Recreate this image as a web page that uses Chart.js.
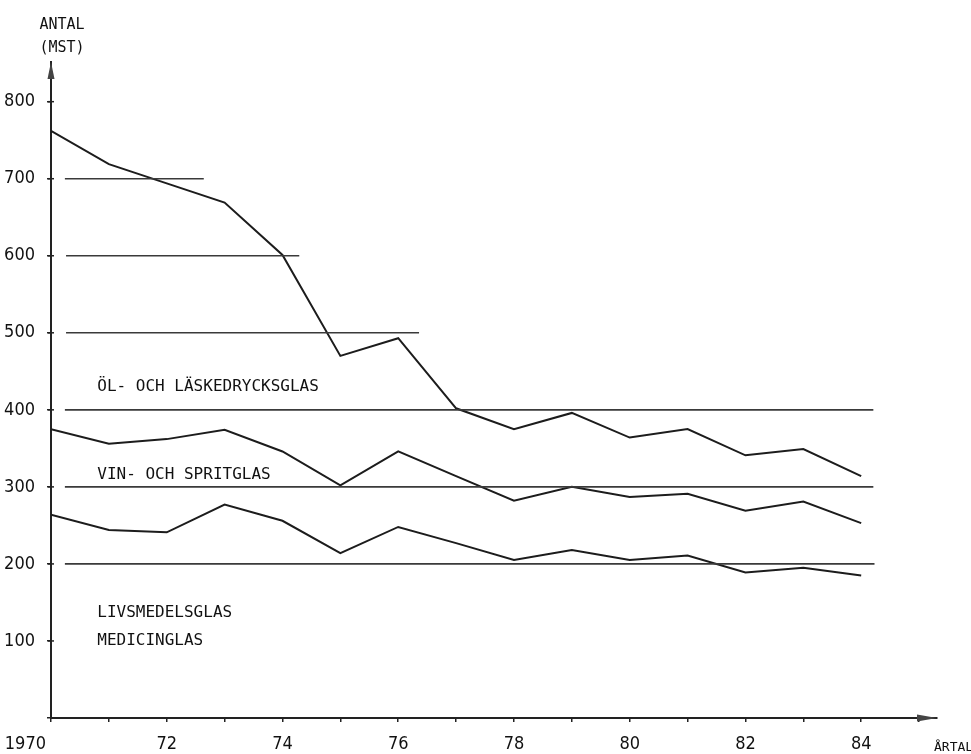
<!DOCTYPE html>
<html>
<head>
<meta charset="utf-8">
<script src="https://cdn.jsdelivr.net/npm/chart.js@4.4.1/dist/chart.umd.min.js"></script>
<style>
  body { margin: 0; background: #fff; }
  #wrap { width: 971px; height: 754px; }
</style>
</head>
<body>
<div id="wrap"><canvas id="chart1" width="971" height="754"></canvas></div>
<script>
// data (antal, miljoner st)
const years = [1970, 1971, 1972, 1973, 1974, 1975, 1976, 1977, 1978, 1979, 1980, 1981, 1982, 1983, 1984];
const olOchLask = [762, 719, 694, 669, 601, 470, 493, 402, 375, 396, 364, 375, 341, 349, 314];
const vinOchSprit = [375, 356, 362, 374, 346, 302, 346, 314, 282, 300, 287, 291, 269, 281, 253];
const livsmedel = [264, 244, 241, 277, 256, 214, 248, 227, 205, 218, 205, 211, 189, 195, 185];

const yTickValues = [100, 200, 300, 400, 500, 600, 700, 800];
const xLabelYears = [1970, 1972, 1974, 1976, 1978, 1980, 1982, 1984];
const xLabels = ['1970', '72', '74', '76', '78', '80', '82', '84'];

// the hand drawn reference lines: level, start year, end year
const refValues = [700, 600, 500, 400, 300, 200];
const refStarts = [1970.24, 1970.26, 1970.26, 1970.24, 1970.24, 1970.24];
const refEnds = [1972.64, 1974.29, 1976.36, 1984.21, 1984.21, 1984.23];

const numFont = "'Liberation Sans Narrow', 'DejaVu Sans Condensed', sans-serif";
const monoFont = "'DejaVu Sans Mono', monospace";

function pts(vals) {
    return years.map((yr, i) => ({ x: yr, y: vals[i] }));
}

const datasets = [];
for (let i = 0; i < refValues.length; i++) {
    datasets.push({
        label: 'ref' + refValues[i],
        data: [{ x: refStarts[i], y: refValues[i] }, { x: refEnds[i], y: refValues[i] }],
        borderColor: '#3a3a3a',
        borderWidth: 1.6,
        pointRadius: 0
    });
}
[olOchLask, vinOchSprit, livsmedel].forEach((s, i) => {
    datasets.push({
        label: ['Öl- och läskedrycksglas', 'Vin- och spritglas', 'Livsmedelsglas, medicinglas'][i],
        data: pts(s),
        borderColor: '#1c1c1c',
        borderWidth: 2,
        pointRadius: 0,
        tension: 0
    });
});

const extras = {
    id: 'extras',
    afterDraw(chart) {
        const ctx = chart.ctx;
        const xs = chart.scales.x, ys = chart.scales.y;
        const ax = xs.getPixelForValue(1970);
        const ay = ys.getPixelForValue(0);
        const top = chart.chartArea.top;
        const right = chart.chartArea.right;
        ctx.save();

        // arrow heads
        ctx.fillStyle = '#444';
        ctx.beginPath();
        ctx.moveTo(ax, top);
        ctx.lineTo(ax - 3.5, top + 17);
        ctx.lineTo(ax + 3.5, top + 17);
        ctx.closePath();
        ctx.fill();
        ctx.beginPath();
        ctx.moveTo(right, ay);
        ctx.lineTo(right - 20, ay - 3.5);
        ctx.lineTo(right - 20, ay + 3.5);
        ctx.closePath();
        ctx.fill();

        // small crossing ticks on the y axis
        ctx.strokeStyle = '#222';
        ctx.lineWidth = 1.5;
        yTickValues.forEach(v => {
            const py = ys.getPixelForValue(v);
            ctx.beginPath();
            ctx.moveTo(ax - 3, py);
            ctx.lineTo(ax + 3, py);
            ctx.stroke();
        });

        // first x label sits left of the axis
        ctx.fillStyle = '#111';
        ctx.font = '18px ' + numFont;
        ctx.textAlign = 'right';
        ctx.textBaseline = 'middle';
        ctx.fillText(xLabels[0], ax - 5, ay + 26);

        // axis titles
        ctx.font = '15px ' + monoFont;
        ctx.textAlign = 'center';
        ctx.fillText('ANTAL', ax + 11, 25);
        ctx.fillText('(MST)', ax + 11, 48);
        ctx.font = '13px ' + monoFont;
        ctx.textAlign = 'left';
        ctx.fillText('ÅRTAL', 934, ay + 30);

        // series labels
        ctx.font = '16px ' + monoFont;
        const lx = xs.getPixelForValue(1970.8);
        ctx.fillText('ÖL- OCH LÄSKEDRYCKSGLAS', lx, ys.getPixelForValue(430));
        ctx.fillText('VIN- OCH SPRITGLAS', lx, ys.getPixelForValue(316));
        ctx.fillText('LIVSMEDELSGLAS', lx, ys.getPixelForValue(137));
        ctx.fillText('MEDICINGLAS', lx, ys.getPixelForValue(100));
        ctx.restore();
    }
};

const ctx1 = document.getElementById('chart1').getContext('2d');
const chart1 = new Chart(ctx1, {
    type: 'line',
    data: { datasets: datasets },
    options: {
        responsive: false,
        animation: false,
        layout: { padding: { top: 62, right: 34, left: 0, bottom: 0 } },
        plugins: { legend: { display: false }, tooltip: { enabled: false } },
        scales: {
            x: {
                type: 'linear',
                min: 1970,
                max: 1985.31,
                afterFit: s => { s.height = 36; },
                border: { display: true, color: '#222', width: 2 },
                grid: { drawOnChartArea: false, drawTicks: true, tickLength: 4, color: '#222', lineWidth: 1.5 },
                ticks: {
                    stepSize: 1,
                    includeBounds: false,
                    autoSkip: false,
                    maxRotation: 0,
                    padding: 12,
                    color: '#111',
                    font: { family: numFont, size: 18 },
                    callback: v => {
                        const k = xLabelYears.indexOf(v);
                        return k > 0 ? xLabels[k] : '';
                    }
                }
            },
            y: {
                min: 0,
                max: 851.5,
                afterFit: s => { s.width = 51; },
                border: { display: true, color: '#222', width: 2 },
                grid: { drawOnChartArea: false, drawTicks: true, tickLength: 4, color: '#222', lineWidth: 1.5 },
                ticks: {
                    stepSize: 100,
                    includeBounds: false,
                    padding: 12,
                    color: '#111',
                    font: { family: numFont, size: 18 },
                    callback: v => yTickValues.includes(v) ? String(v) : ''
                }
            }
        }
    },
    plugins: [extras]
});
</script>
</body>
</html>
